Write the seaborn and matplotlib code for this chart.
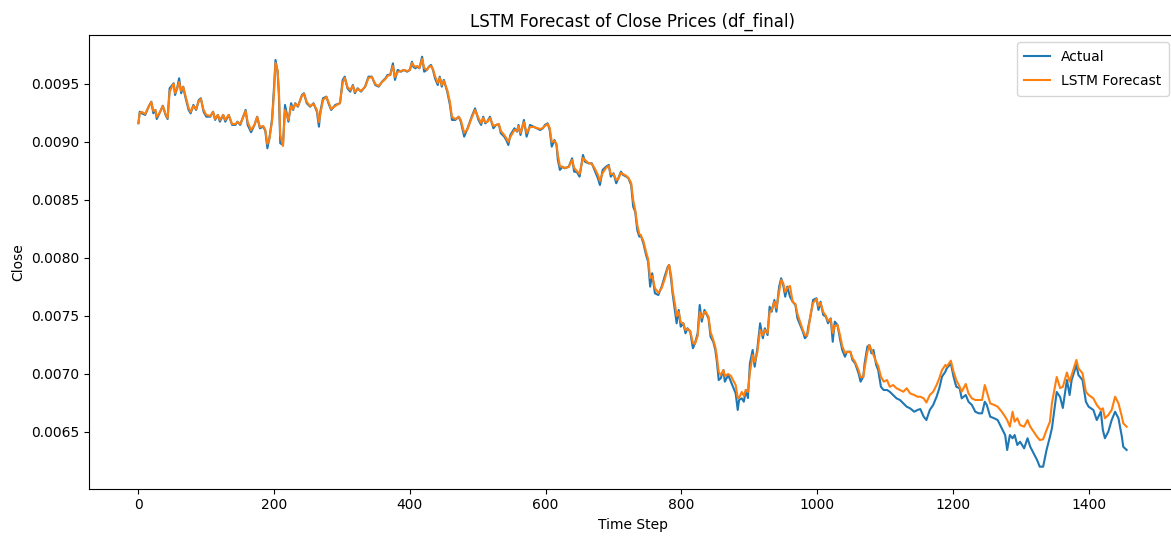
import matplotlib
matplotlib.use("Agg")
import matplotlib.pyplot as plt
from matplotlib.ticker import FormatStrFormatter
import seaborn as sns
import pandas as pd

# Sampled time steps of the test window
time_step = [
    0, 2, 5, 10, 15, 19, 22, 25, 27, 31, 36, 40, 43, 46, 50, 52, 54, 57, 60, 63,
    66, 69, 74, 77, 81, 85, 89, 92, 96, 100, 106, 110, 113, 117, 120, 125, 128, 133, 138, 143,
    146, 150, 158, 161, 166, 171, 175, 179, 184, 187, 190, 193, 197, 200, 202, 205, 207, 209, 213, 216,
    221, 225, 228, 231, 235, 241, 244, 248, 253, 258, 263, 266, 268, 272, 277, 280, 284, 290, 297, 301,
    304, 308, 312, 316, 319, 323, 328, 334, 339, 344, 349, 354, 359, 364, 367, 371, 375, 378, 382, 387,
    391, 396, 400, 403, 405, 408, 411, 414, 418, 421, 425, 428, 431, 434, 437, 441, 444, 447, 450, 455,
    459, 462, 467, 472, 475, 480, 485, 491, 496, 501, 505, 508, 511, 514, 518, 523, 527, 531, 534, 539,
    542, 545, 548, 554, 558, 560, 563, 568, 572, 577, 582, 587, 592, 596, 599, 603, 606, 609, 613, 616,
    618, 621, 625, 628, 634, 639, 642, 646, 650, 655, 658, 663, 668, 672, 677, 680, 684, 689, 693, 696,
    700, 704, 707, 711, 714, 719, 722, 726, 729, 732, 735, 738, 740, 744, 748, 751, 754, 757, 761, 766,
    771, 776, 780, 782, 785, 787, 791, 793, 796, 799, 803, 806, 809, 813, 817, 820, 824, 827, 830, 834,
    836, 840, 843, 847, 850, 852, 855, 858, 862, 864, 869, 873, 876, 880, 883, 885, 889, 892, 895, 898,
    901, 905, 908, 912, 916, 920, 923, 927, 930, 933, 937, 940, 944, 947, 950, 953, 956, 960, 964, 968,
    971, 975, 979, 982, 985, 987, 991, 994, 999, 1002, 1005, 1009, 1013, 1016, 1020, 1023, 1026, 1030, 1034, 1037,
    1041, 1044, 1049, 1052, 1056, 1061, 1064, 1068, 1070, 1074, 1077, 1080, 1083, 1087, 1090, 1094, 1098, 1103, 1107, 1112,
    1117, 1122, 1127, 1132, 1137, 1143, 1148, 1152, 1157, 1161, 1166, 1171, 1176, 1180, 1184, 1189, 1191, 1197, 1201, 1205,
    1210, 1213, 1219, 1223, 1228, 1233, 1238, 1243, 1247, 1250, 1255, 1261, 1266, 1272, 1277, 1280, 1284, 1288, 1291, 1295,
    1299, 1305, 1310, 1314, 1319, 1324, 1328, 1333, 1338, 1343, 1346, 1353, 1358, 1362, 1368, 1372, 1375, 1382, 1385, 1391,
    1396, 1400, 1407, 1412, 1418, 1421, 1424, 1429, 1434, 1439, 1444, 1449, 1451, 1456,
]

# Observed close prices
actual_close = [
    0.009161, 0.009261, 0.009247, 0.009233, 0.009304, 0.009347, 0.009247, 0.009276, 0.009198, 0.009247,
    0.009313, 0.009233, 0.009198, 0.009463, 0.009491, 0.009506, 0.009405, 0.009463, 0.009549, 0.009420,
    0.009477, 0.009391, 0.009276, 0.009247, 0.009319, 0.009276, 0.009362, 0.009377, 0.009261, 0.009218,
    0.009218, 0.009261, 0.009190, 0.009233, 0.009175, 0.009233, 0.009175, 0.009233, 0.009147, 0.009147,
    0.009175, 0.009147, 0.009276, 0.009147, 0.009084, 0.009147, 0.009218, 0.009118, 0.009132, 0.009095,
    0.008946, 0.009032, 0.009204, 0.009491, 0.009707, 0.009606, 0.009405, 0.008989, 0.008974, 0.009319,
    0.009175, 0.009334, 0.009276, 0.009334, 0.009304, 0.009405, 0.009420, 0.009334, 0.009304, 0.009334,
    0.009261, 0.009132, 0.009261, 0.009377, 0.009391, 0.009334, 0.009276, 0.009319, 0.009334, 0.009535,
    0.009563, 0.009463, 0.009434, 0.009491, 0.009420, 0.009463, 0.009434, 0.009477, 0.009563, 0.009563,
    0.009491, 0.009477, 0.009520, 0.009549, 0.009578, 0.009578, 0.009678, 0.009535, 0.009621, 0.009606,
    0.009621, 0.009606, 0.009621, 0.009692, 0.009649, 0.009635, 0.009649, 0.009635, 0.009735, 0.009606,
    0.009621, 0.009649, 0.009664, 0.009621, 0.009549, 0.009491, 0.009563, 0.009477, 0.009535, 0.009434,
    0.009319, 0.009190, 0.009190, 0.009218, 0.009175, 0.009046, 0.009118, 0.009218, 0.009290, 0.009190,
    0.009147, 0.009218, 0.009161, 0.009175, 0.009218, 0.009118, 0.009147, 0.009153, 0.009075, 0.009046,
    0.009017, 0.008974, 0.009060, 0.009118, 0.009089, 0.009147, 0.009060, 0.009190, 0.009046, 0.009147,
    0.009132, 0.009118, 0.009103, 0.009118, 0.009147, 0.009161, 0.009103, 0.008960, 0.009017, 0.008974,
    0.008845, 0.008759, 0.008787, 0.008773, 0.008787, 0.008859, 0.008744, 0.008741, 0.008701, 0.008888,
    0.008830, 0.008816, 0.008816, 0.008759, 0.008687, 0.008629, 0.008759, 0.008787, 0.008802, 0.008701,
    0.008730, 0.008644, 0.008687, 0.008744, 0.008716, 0.008701, 0.008687, 0.008629, 0.008442, 0.008399,
    0.008241, 0.008184, 0.008198, 0.008127, 0.008026, 0.007968, 0.007753, 0.007868, 0.007696, 0.007681,
    0.007753, 0.007853, 0.007925, 0.007940, 0.007810, 0.007696, 0.007523, 0.007437, 0.007552, 0.007408,
    0.007437, 0.007351, 0.007394, 0.007365, 0.007222, 0.007265, 0.007351, 0.007595, 0.007451, 0.007552,
    0.007526, 0.007480, 0.007322, 0.007278, 0.007207, 0.007121, 0.006948, 0.006963, 0.007034, 0.006934,
    0.006991, 0.006934, 0.006890, 0.006833, 0.006690, 0.006776, 0.006790, 0.006761, 0.006862, 0.006793,
    0.007092, 0.007207, 0.007063, 0.007222, 0.007437, 0.007308, 0.007394, 0.007336, 0.007580, 0.007537,
    0.007638, 0.007537, 0.007753, 0.007825, 0.007767, 0.007666, 0.007753, 0.007666, 0.007623, 0.007595,
    0.007480, 0.007422, 0.007365, 0.007308, 0.007328, 0.007408, 0.007523, 0.007638, 0.007653, 0.007552,
    0.007623, 0.007509, 0.007494, 0.007437, 0.007480, 0.007278, 0.007451, 0.007422, 0.007293, 0.007207,
    0.007149, 0.007192, 0.007192, 0.007121, 0.007092, 0.007006, 0.006934, 0.006977, 0.007092, 0.007235,
    0.007250, 0.007178, 0.007207, 0.007078, 0.007034, 0.006890, 0.006862, 0.006862, 0.006847, 0.006819,
    0.006790, 0.006776, 0.006747, 0.006718, 0.006704, 0.006675, 0.006690, 0.006698, 0.006632, 0.006603,
    0.006690, 0.006733, 0.006804, 0.006877, 0.006977, 0.007020, 0.007049, 0.007092, 0.006977, 0.006890,
    0.006877, 0.006790, 0.006819, 0.006761, 0.006733, 0.006675, 0.006661, 0.006661, 0.006761, 0.006733,
    0.006632, 0.006618, 0.006603, 0.006532, 0.006474, 0.006345, 0.006474, 0.006446, 0.006474, 0.006388,
    0.006416, 0.006359, 0.006446, 0.006373, 0.006316, 0.006259, 0.006201, 0.006201, 0.006345, 0.006459,
    0.006534, 0.006845, 0.006802, 0.006707, 0.006948, 0.006819, 0.006948, 0.007078, 0.006991, 0.006948,
    0.006761, 0.006718, 0.006690, 0.006603, 0.006675, 0.006517, 0.006446, 0.006503, 0.006603, 0.006675,
    0.006618, 0.006459, 0.006373, 0.006345,
]

# One-step-ahead LSTM predictions
forecast_close = [
    0.009164, 0.009250, 0.009259, 0.009241, 0.009302, 0.009345, 0.009267, 0.009276, 0.009216, 0.009250,
    0.009310, 0.009241, 0.009207, 0.009431, 0.009483, 0.009500, 0.009422, 0.009457, 0.009517, 0.009440,
    0.009474, 0.009405, 0.009293, 0.009259, 0.009310, 0.009284, 0.009353, 0.009371, 0.009276, 0.009233,
    0.009224, 0.009259, 0.009198, 0.009233, 0.009190, 0.009233, 0.009190, 0.009233, 0.009155, 0.009155,
    0.009172, 0.009155, 0.009267, 0.009172, 0.009103, 0.009147, 0.009216, 0.009129, 0.009138, 0.009103,
    0.008983, 0.009026, 0.009181, 0.009448, 0.009681, 0.009621, 0.009448, 0.009060, 0.008966, 0.009276,
    0.009190, 0.009310, 0.009284, 0.009328, 0.009310, 0.009397, 0.009414, 0.009345, 0.009310, 0.009328,
    0.009276, 0.009172, 0.009241, 0.009362, 0.009388, 0.009345, 0.009284, 0.009310, 0.009336, 0.009509,
    0.009552, 0.009474, 0.009448, 0.009483, 0.009431, 0.009457, 0.009440, 0.009474, 0.009552, 0.009560,
    0.009500, 0.009483, 0.009517, 0.009543, 0.009569, 0.009578, 0.009655, 0.009560, 0.009603, 0.009612,
    0.009621, 0.009612, 0.009621, 0.009681, 0.009664, 0.009647, 0.009655, 0.009638, 0.009716, 0.009638,
    0.009621, 0.009647, 0.009655, 0.009629, 0.009569, 0.009509, 0.009552, 0.009491, 0.009526, 0.009448,
    0.009345, 0.009216, 0.009198, 0.009216, 0.009190, 0.009078, 0.009112, 0.009207, 0.009276, 0.009207,
    0.009164, 0.009207, 0.009172, 0.009172, 0.009207, 0.009138, 0.009147, 0.009155, 0.009095, 0.009060,
    0.009034, 0.009000, 0.009043, 0.009103, 0.009095, 0.009138, 0.009078, 0.009172, 0.009078, 0.009129,
    0.009129, 0.009121, 0.009112, 0.009121, 0.009138, 0.009155, 0.009121, 0.009000, 0.009009, 0.008983,
    0.008888, 0.008793, 0.008784, 0.008776, 0.008784, 0.008845, 0.008776, 0.008750, 0.008724, 0.008862,
    0.008845, 0.008819, 0.008810, 0.008776, 0.008716, 0.008664, 0.008733, 0.008776, 0.008793, 0.008724,
    0.008724, 0.008672, 0.008681, 0.008733, 0.008724, 0.008707, 0.008690, 0.008647, 0.008500, 0.008414,
    0.008284, 0.008207, 0.008198, 0.008147, 0.008052, 0.007991, 0.007828, 0.007845, 0.007741, 0.007698,
    0.007741, 0.007828, 0.007914, 0.007940, 0.007845, 0.007724, 0.007586, 0.007500, 0.007534, 0.007448,
    0.007431, 0.007379, 0.007388, 0.007371, 0.007267, 0.007259, 0.007328, 0.007534, 0.007483, 0.007534,
    0.007534, 0.007491, 0.007362, 0.007293, 0.007233, 0.007164, 0.007017, 0.006991, 0.007034, 0.006983,
    0.007000, 0.006983, 0.006948, 0.006905, 0.006793, 0.006793, 0.006845, 0.006810, 0.006862, 0.006845,
    0.007017, 0.007164, 0.007103, 0.007190, 0.007379, 0.007336, 0.007379, 0.007353, 0.007534, 0.007552,
    0.007621, 0.007569, 0.007707, 0.007810, 0.007784, 0.007707, 0.007741, 0.007759, 0.007621, 0.007603,
    0.007517, 0.007448, 0.007379, 0.007336, 0.007328, 0.007379, 0.007534, 0.007612, 0.007647, 0.007586,
    0.007612, 0.007534, 0.007500, 0.007457, 0.007474, 0.007353, 0.007414, 0.007422, 0.007328, 0.007241,
    0.007181, 0.007190, 0.007190, 0.007138, 0.007103, 0.007034, 0.006974, 0.006974, 0.007052, 0.007190,
    0.007250, 0.007207, 0.007164, 0.007103, 0.007069, 0.006977, 0.006934, 0.006948, 0.006890, 0.006905,
    0.006877, 0.006862, 0.006847, 0.006877, 0.006833, 0.006819, 0.006804, 0.006804, 0.006790, 0.006754,
    0.006819, 0.006847, 0.006905, 0.006963, 0.007034, 0.007078, 0.007063, 0.007115, 0.007020, 0.006948,
    0.006890, 0.006847, 0.006914, 0.006833, 0.006790, 0.006776, 0.006776, 0.006776, 0.006905, 0.006847,
    0.006747, 0.006733, 0.006718, 0.006675, 0.006632, 0.006603, 0.006546, 0.006675, 0.006589, 0.006618,
    0.006560, 0.006546, 0.006603, 0.006546, 0.006503, 0.006459, 0.006431, 0.006437, 0.006517, 0.006589,
    0.006750, 0.006974, 0.006879, 0.006888, 0.007013, 0.006934, 0.006991, 0.007121, 0.007049, 0.007006,
    0.006847, 0.006819, 0.006790, 0.006733, 0.006690, 0.006704, 0.006618, 0.006646, 0.006690, 0.006804,
    0.006747, 0.006632, 0.006575, 0.006546,
]

df = pd.DataFrame({
    "Time Step": time_step,
    "Actual": actual_close,
    "LSTM Forecast": forecast_close,
})

fig = plt.figure(figsize=(11.71, 5.37), dpi=100)
ax = fig.add_axes([0.0760, 0.0899, 0.9283, 0.8449])

sns.lineplot(data=df, x="Time Step", y="Actual", ax=ax,
             color="#1f77b4", linewidth=1.5, label="Actual")
sns.lineplot(data=df, x="Time Step", y="LSTM Forecast", ax=ax,
             color="#ff7f0e", linewidth=1.5, label="LSTM Forecast")

ax.set_title("LSTM Forecast of Close Prices (df_final)")
ax.set_xlabel("Time Step")
ax.set_ylabel("Close")
ax.set_xlim(-72.8, 1528.8)
ax.set_ylim(0.006011, 0.009922)
ax.set_xticks([0, 200, 400, 600, 800, 1000, 1200, 1400])
ax.set_yticks([0.0065, 0.0070, 0.0075, 0.0080, 0.0085, 0.0090, 0.0095])
ax.yaxis.set_major_formatter(FormatStrFormatter("%.4f"))
ax.legend(loc="upper right", borderpad=0.55, labelspacing=0.75,
          handlelength=1.85)

fig.savefig("out.png", dpi=100)
